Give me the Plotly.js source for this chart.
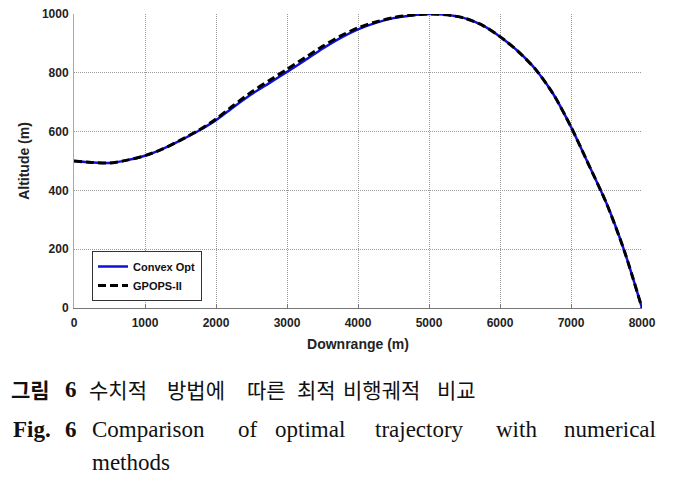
<!DOCTYPE html>
<html>
<head>
<meta charset="utf-8">
<script src="https://cdn.plot.ly/plotly-3.0.1.min.js"></script>
<style>html,body{margin:0;padding:0;background:#fff;}#chart{width:682px;height:480px;}</style>
</head>
<body>
<div id="chart"></div>
<script>
// Downrange (m)
const downrange = [0,250,500,750,1000,1250,1500,1750,2000,2250,2500,2750,3000,3250,3500,3750,4000,4250,4500,4750,5000,5250,5500,5750,6000,6250,6500,6750,7000,7250,7500,7750,8000];
// Altitude (m) - Convex Opt
const altConvex = [500,495,493,503,518,541,570,602,639,684,727,765,803,842,882,918,948,970,986,995,1000,997,986,962,923,874,812,728,616,487,356,195,0];
// Altitude (m) - GPOPS-II
const altGpops = [500,495,493,503,518,541,571,604,643,690,735,774,812,851,890,925,953,973,988,996,1000,997,986,962,923,874,812,728,616,487,356,195,0];

const xTicks = [0,1000,2000,3000,4000,5000,6000,7000,8000];
const yTicks = [0,200,400,600,800,1000];

const seriesNames = ['Convex Opt','GPOPS-II'];
const captionKo = ['수치적','방법에','따른','최적','비행궤적','비교'];
const captionEn = ['Comparison','of','optimal','trajectory','with','numerical'];

// pixel helpers for caption placement (plot area 74..642 x, 14..308 y)
const L = 74, R = 642, T = 14, B = 308;
const px = p => (p - L) / (R - L);
const py = p => (B - p) / (B - T);

const traces = [
  {x: downrange, y: altConvex, name: seriesNames[0], mode: 'lines',
   line: {color: '#1010d8', width: 2.5, shape: 'spline', smoothing: 0.7}},
  {x: downrange, y: altGpops, name: seriesNames[1], mode: 'lines',
   line: {color: '#000000', width: 3, dash: '8px,4px', shape: 'spline', smoothing: 0.7}}
];

const koX = [88,166,246,296,342,436];
const enX = [90.7,237,274,374,495,563];
const ann = [];
function addAnn(text, x, y, font) {
  ann.push({text: text, xref: 'paper', yref: 'paper', x: px(x), y: py(y),
    xanchor: 'left', yanchor: 'middle', showarrow: false, borderpad: 0, font: font});
}
const koFont = {family: 'Noto Sans CJK KR', size: 21, color: '#111'};
const koBold = {family: 'Noto Sans CJK KR', size: 21, color: '#111', weight: 'bold'};
const enFont = {family: 'Liberation Serif', size: 23, color: '#111'};
const enBold = {family: 'Liberation Serif', size: 23, color: '#111', weight: 'bold'};
addAnn('그림', 10, 389, koBold);
addAnn('6', 64, 389, enBold);
captionKo.forEach((w, i) => addAnn(w, koX[i], 389, koFont));
addAnn('Fig.', 12, 429, enBold);
addAnn('6', 64, 429, enBold);
captionEn.forEach((w, i) => addAnn(w, enX[i], 429, enFont));
addAnn('methods', 90.7, 462, enFont);

const layout = {
  width: 682, height: 480,
  margin: {l: L, r: 682 - R, t: T, b: 480 - B},
  paper_bgcolor: '#fff', plot_bgcolor: '#fff',
  showlegend: true,
  legend: {x: px(92), y: py(251), xanchor: 'left', yanchor: 'top',
    bordercolor: '#333', borderwidth: 1, bgcolor: '#fff',
    font: {family: 'Liberation Sans', size: 11, color: '#111', weight: 'bold'},
    tracegroupgap: 0},
  xaxis: {range: [0, 8000], tickvals: xTicks, ticktext: xTicks.map(String),
    showgrid: true, gridcolor: '#999', griddash: '1px,1px', gridwidth: 1,
    zeroline: false, showline: true, linecolor: '#777', linewidth: 1,
    ticks: 'inside', ticklen: 4, tickcolor: '#777',
    tickfont: {family: 'Liberation Sans', size: 12, color: '#222', weight: 'bold'},
    ticklabelstandoff: 4,
    title: {text: 'Downrange (m)', standoff: 9,
      font: {family: 'Liberation Sans', size: 14, color: '#222', weight: 'bold'}}},
  yaxis: {range: [0, 1000], tickvals: yTicks, ticktext: yTicks.map(String),
    showgrid: true, gridcolor: '#999', griddash: '1px,1px', gridwidth: 1,
    zeroline: false, showline: true, linecolor: '#aaa', linewidth: 1,
    ticks: '',
    tickfont: {family: 'Liberation Sans', size: 12, color: '#222', weight: 'bold'},
    ticklabelstandoff: 2,
    title: {text: 'Altitude (m)', standoff: 8,
      font: {family: 'Liberation Sans', size: 14, color: '#222', weight: 'bold'}}},
  annotations: ann
};

Plotly.newPlot('chart', traces, layout, {displayModeBar: false, staticPlot: true});
</script>
</body>
</html>
